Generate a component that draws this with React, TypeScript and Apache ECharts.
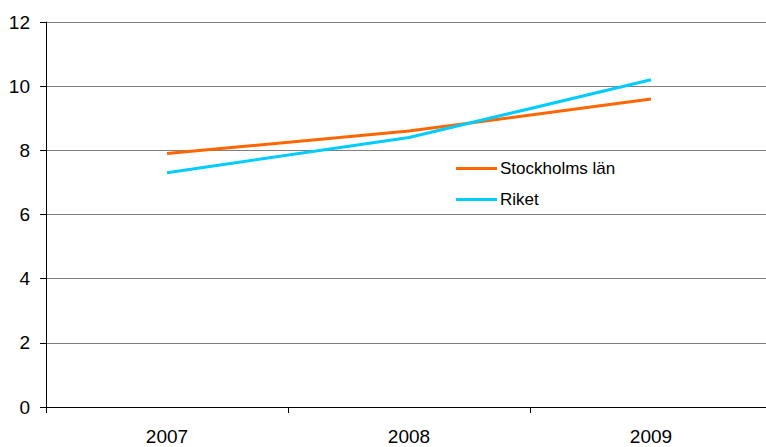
import React, { useEffect, useRef } from "react";
import * as echarts from "echarts";

const categories = ["2007", "2008", "2009"];
const stockholm = [7.9, 8.6, 9.6];
const riket = [7.3, 8.4, 10.2];
const seriesNames = ["Stockholms län", "Riket"];

const FONT = "'Liberation Sans', Arial, sans-serif";

export default function App() {
  const ref = useRef<HTMLDivElement>(null);
  useEffect(() => {
    const chart = echarts.init(ref.current!, null, { renderer: "svg" });
    chart.setOption({
      animation: false,
      backgroundColor: "#fff",
      textStyle: { fontFamily: FONT },
      grid: { left: 46, width: 726, top: 22, bottom: 40, outerBoundsMode: "none", containLabel: false },
      legend: {
        orient: "vertical",
        left: 456,
        top: 159,
        padding: 0,
        itemWidth: 41,
        itemHeight: 3,
        itemGap: 12,
        icon: "rect",
        textStyle: { fontSize: 17, fontFamily: FONT, color: "#000", padding: [0, 0, 0, -2], lineHeight: 19 },
        data: seriesNames,
      },
      xAxis: {
        type: "category",
        data: categories,
        boundaryGap: true,
        axisLine: { lineStyle: { color: "#000", width: 1 } },
        axisTick: { show: true, length: 6, lineStyle: { color: "#000" } },
        axisLabel: { fontSize: 19, fontFamily: FONT, color: "#000", margin: 20 },
      },
      yAxis: {
        type: "value",
        min: 0,
        max: 12,
        interval: 2,
        axisLine: { show: true, lineStyle: { color: "#000", width: 1 } },
        axisTick: { show: true, length: 6, lineStyle: { color: "#000" } },
        axisLabel: { fontSize: 19, fontFamily: FONT, color: "#000", margin: 16 },
        splitLine: { lineStyle: { color: "#808080", width: 1 } },
      },
      series: [
        {
          name: seriesNames[0],
          type: "line",
          data: stockholm,
          symbol: "none",
          lineStyle: { color: "#FF6600", width: 3 },
          itemStyle: { color: "#FF6600" },
        },
        {
          name: seriesNames[1],
          type: "line",
          data: riket,
          symbol: "none",
          lineStyle: { color: "#00CCFF", width: 3 },
          itemStyle: { color: "#00CCFF" },
        },
      ],
    });
    return () => chart.dispose();
  }, []);
  return <div ref={ref} style={{ width: 766, height: 447, position: "absolute", left: 0, top: 0 }} />;
}
